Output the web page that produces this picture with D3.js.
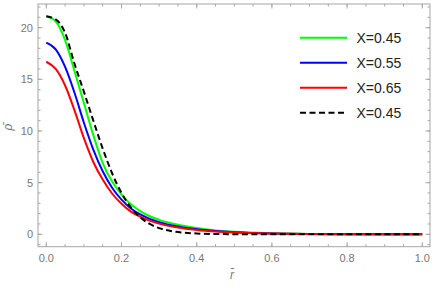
<!DOCTYPE html>
<html>
<head>
<meta charset="utf-8">
<script src="https://cdn.jsdelivr.net/npm/d3@7"></script>
<style>
  body { margin: 0; background: #fff; }
  svg { display: block; font-family: "Liberation Sans", Arial, sans-serif; }
</style>
</head>
<body>
<svg width="436" height="287"></svg>
<script>
var svg = d3.select("svg");

// radial grid (r bar)
var rVals = [0, 0.025, 0.05, 0.075, 0.1, 0.125, 0.15, 0.175, 0.2, 0.225, 0.25, 0.275, 0.3,
	0.35, 0.4, 0.45, 0.5, 0.6, 0.7, 0.8, 0.9, 1.0];

// rho bar values
var green45 = [21.1, 20.6, 18.8, 15.8, 12.7, 9.6, 6.9, 5.1, 3.85, 2.9, 2.25, 1.75, 1.4,
	0.92, 0.6, 0.38, 0.24, 0.1, 0.04, 0.02, 0.01, 0];
var blue55 = [18.55, 17.9, 16.2, 13.7, 10.8, 8.2, 6.1, 4.5, 3.35, 2.5, 1.92, 1.5, 1.18,
	0.75, 0.48, 0.31, 0.2, 0.08, 0.035, 0.015, 0.007, 0];
var red65 = [16.7, 16.0, 14.4, 12.0, 9.3, 7.0, 5.3, 3.95, 2.95, 2.2, 1.7, 1.32, 1.03,
	0.65, 0.42, 0.27, 0.17, 0.07, 0.03, 0.013, 0.006, 0];
var black45 = [21.1, 20.8, 19.5, 16.5, 13.8, 11.0, 8.3, 5.9, 4.0, 2.6, 1.65, 1.0, 0.6,
	0.22, 0.08, 0.03, 0.01, 0, 0, 0, 0, 0];

var xTicks = [0, 0.2, 0.4, 0.6, 0.8, 1.0];
var yTicks = [0, 5, 10, 15, 20];

var series = [
	{ name: "X=0.45", color: "#00ff00", dash: null, values: green45 },
	{ name: "X=0.55", color: "#0000ff", dash: null, values: blue55 },
	{ name: "X=0.65", color: "#ff0000", dash: null, values: red65 },
	{ name: "X=0.45", color: "#000000", dash: "6,3.5", values: black45 }
];

var pl = 38, pr = 430, pt = 4, pb = 246.7;

var x = d3.scaleLinear().domain([-0.0221, 1.0205]).range([pl, pr]);
var y = d3.scaleLinear().domain([-1.2, 22.29]).range([pb, pt]);

var frameColor = "#a6a6a6";
var labelColor = "#777";

// curves
var line = d3.line()
	.x((d, i) => x(rVals[i]))
	.y(d => y(d))
	.curve(d3.curveMonotoneX);

svg.append("defs").append("clipPath").attr("id", "clip")
	.append("rect")
	.attr("x", pl).attr("y", pt)
	.attr("width", pr - pl).attr("height", pb - pt);

svg.append("g")
	.attr("clip-path", "url(#clip)")
	.selectAll("path")
	.data(series)
	.enter().append("path")
	.attr("d", d => line(d.values))
	.attr("fill", "none")
	.attr("stroke", d => d.color)
	.attr("stroke-width", 2)
	.attr("stroke-dasharray", d => d.dash);

// frame with inward ticks on all sides
var frame = svg.append("g");

var xMinor = d3.range(0, 1.0001, 0.05);
var yMinor = d3.range(-1, 23, 1);

function addTicks(vals, scale, len, horizontal) {
	vals.forEach(v => {
		var p = scale(v);
		if (horizontal) {
			frame.append("line").attr("x1", p).attr("x2", p)
				.attr("y1", pb).attr("y2", pb - len);
			frame.append("line").attr("x1", p).attr("x2", p)
				.attr("y1", pt).attr("y2", pt + len);
		} else {
			frame.append("line").attr("y1", p).attr("y2", p)
				.attr("x1", pl).attr("x2", pl + len);
			frame.append("line").attr("y1", p).attr("y2", p)
				.attr("x1", pr).attr("x2", pr - len);
		}
	});
}
addTicks(xMinor, x, 2.5, true);
addTicks(xTicks, x, 4.5, true);
addTicks(yMinor.filter(v => y(v) > pt && y(v) < pb), y, 2.5, false);
addTicks(yTicks, y, 4.5, false);

frame.append("rect")
	.attr("x", pl).attr("y", pt)
	.attr("width", pr - pl).attr("height", pb - pt)
	.attr("fill", "none");

frame.selectAll("line, rect")
	.attr("stroke", frameColor)
	.attr("stroke-width", 1);

// tick labels
svg.append("g").selectAll("text")
	.data(xTicks)
	.enter().append("text")
	.attr("x", d => x(d))
	.attr("y", pb + 15)
	.attr("text-anchor", "middle")
	.attr("font-size", 11)
	.attr("fill", labelColor)
	.text(d => d3.format(".1f")(d));

svg.append("g").selectAll("text")
	.data(yTicks)
	.enter().append("text")
	.attr("x", pl - 5)
	.attr("y", d => y(d) + 4)
	.attr("text-anchor", "end")
	.attr("font-size", 11)
	.attr("fill", labelColor)
	.text(d => d);

// axis labels
svg.append("text")
	.attr("x", 232)
	.attr("y", 279)
	.attr("text-anchor", "middle")
	.attr("font-size", 12)
	.attr("font-style", "italic")
	.attr("fill", labelColor)
	.text("r\u0304");

svg.append("text")
	.attr("transform", "translate(12,127) rotate(-90)")
	.attr("text-anchor", "middle")
	.attr("font-size", 12)
	.attr("font-style", "italic")
	.attr("fill", labelColor)
	.text("\u03C1\u0304");

// legend
var legend = svg.append("g").selectAll("g")
	.data(series)
	.enter().append("g")
	.attr("transform", (d, i) => "translate(300," + (37.7 + i * 25) + ")");

legend.append("line")
	.attr("x1", 0).attr("x2", 47)
	.attr("stroke", d => d.color)
	.attr("stroke-width", 2)
	.attr("stroke-dasharray", d => d.dash);

legend.append("text")
	.attr("x", 56.5)
	.attr("y", 5)
	.attr("font-size", 14)
	.attr("fill", "#222")
	.text(d => d.name);
</script>
</body>
</html>
